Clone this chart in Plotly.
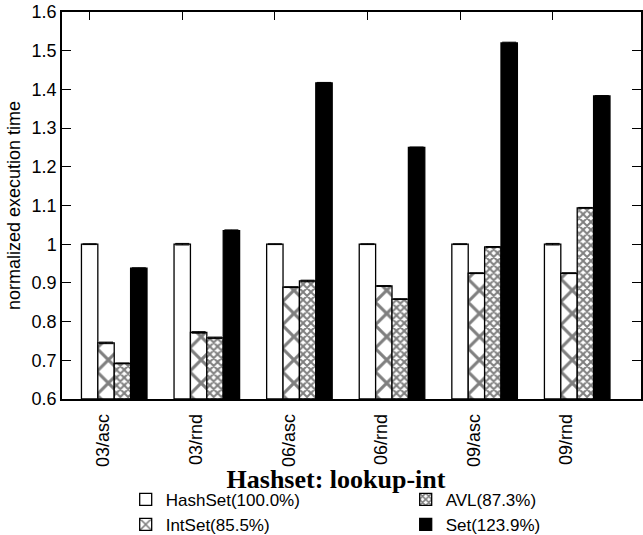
import plotly.graph_objects as go

# Benchmark configurations (x categories)
CATEGORIES = ["03/asc", "03/rnd", "06/asc", "06/rnd", "09/asc", "09/rnd"]

# Normalized execution time per implementation (HashSet = 1.0)
HASHSET = [1.000, 1.000, 1.000, 1.000, 1.000, 1.000]
INTSET = [0.745, 0.772, 0.889, 0.892, 0.925, 0.925]
AVL = [0.692, 0.758, 0.905, 0.858, 0.993, 1.094]
SET = [0.938, 1.035, 1.417, 1.250, 1.520, 1.383]

# Small run-to-run spread shown as error caps
HASHSET_ERR = [0.001, 0.002, 0.001, 0.001, 0.001, 0.002]
INTSET_ERR = [0.002, 0.002, 0.001, 0.001, 0.001, 0.001]
AVL_ERR = [0.001, 0.002, 0.002, 0.001, 0.001, 0.001]
SET_ERR = [0.001, 0.002, 0.001, 0.001, 0.002, 0.001]

SERIES_NAMES = ["HashSet(100.0%)", "IntSet(85.5%)", "AVL(87.3%)", "Set(123.9%)"]

BAR_W = 0.177          # width of one bar in group units
FONT = "Liberation Sans"

group_x = list(range(len(CATEGORIES)))

fig = go.Figure()

styles = [
    dict(color="white", pattern=None, rank=1),
    dict(color="white", pattern=dict(shape="x", size=16.4, solidity=0.34,
                                     fgcolor="black", bgcolor="white"), rank=3),
    dict(color="white", pattern=dict(shape="x", size=5.5, solidity=0.6,
                                     fgcolor="black", bgcolor="white"), rank=2),
    dict(color="black", pattern=None, rank=4),
]

for name, vals, errs, st in zip(SERIES_NAMES,
                                [HASHSET, INTSET, AVL, SET],
                                [HASHSET_ERR, INTSET_ERR, AVL_ERR, SET_ERR],
                                styles):
    marker = dict(color=st["color"], line=dict(color="black", width=1.3))
    if st["pattern"] is not None:
        marker["pattern"] = st["pattern"]
    fig.add_trace(go.Bar(
        x=group_x,
        y=[v - 0.6 for v in vals],
        base=0.6,
        name=name,
        marker=marker,
        legendrank=st["rank"],
        error_y=dict(type="data", array=errs, width=7, thickness=1, color="black"),
    ))

fig.update_layout(
    width=643,
    height=535,
    margin=dict(l=62, r=2, t=12, b=136, autoexpand=False),
    paper_bgcolor="white",
    plot_bgcolor="white",
    barmode="group",
    bargap=1 - 4 * BAR_W,
    bargroupgap=0,
    font=dict(family=FONT, size=18, color="black"),
    title=dict(
        text="Hashset: lookup-int",
        font=dict(family="Liberation Serif", size=26, weight="bold", color="black"),
        x=336 / 643, xref="container", xanchor="center",
        y=1 - 479 / 535, yref="container", yanchor="middle",
    ),
    legend=dict(
        orientation="h",
        x=0.11, xanchor="left",
        y=-0.214, yanchor="top",
        entrywidth=235,
        font=dict(family=FONT, size=17),
        bgcolor="rgba(0,0,0,0)",
    ),
    showlegend=True,
)

fig.update_xaxes(
    range=[-0.564, 5.689],
    tickmode="array",
    tickvals=[i - 1.5 * BAR_W for i in group_x],
    ticktext=CATEGORIES,
    tickangle=-90,
    ticks="inside",
    ticklen=8,
    tickwidth=1.3,
    tickcolor="black",
    ticklabelshift=14,
    ticklabelstandoff=6,
    showline=True,
    linecolor="black",
    linewidth=1.5,
    mirror="ticks",
    showgrid=False,
    zeroline=False,
    layer="below traces",
    tickfont=dict(family=FONT, size=18),
)

fig.update_yaxes(
    range=[0.6, 1.6],
    tick0=0.6,
    dtick=0.1,
    ticks="inside",
    ticklen=9,
    tickwidth=1.3,
    tickcolor="black",
    showline=True,
    linecolor="black",
    linewidth=1.5,
    mirror="ticks",
    showgrid=False,
    zeroline=False,
    tickfont=dict(family=FONT, size=18),
    title=dict(text="normalized execution time", font=dict(family=FONT, size=18), standoff=6),
)

fig.write_html("out.html")
